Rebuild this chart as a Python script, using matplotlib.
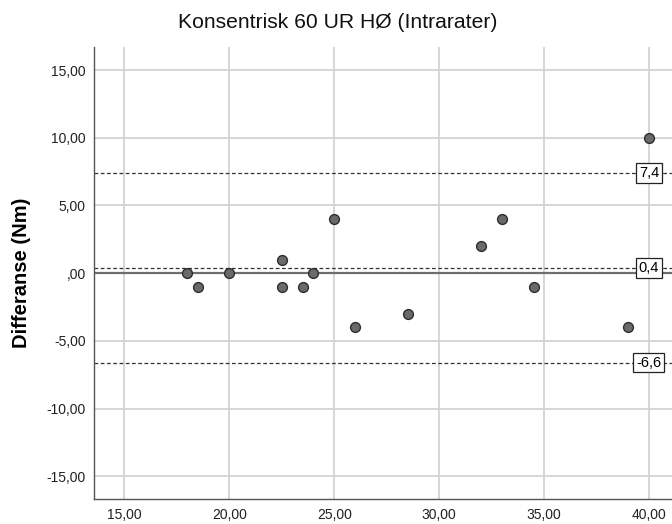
import matplotlib
matplotlib.use("Agg")
import matplotlib.pyplot as plt

# Bland-Altman data: mean of the two measurements vs. their difference
mean_nm = [18, 18.5, 20, 22.5, 22.5, 23.5, 24, 25, 26, 28.5, 32, 33, 34.5, 39, 40]
diff_nm = [0, -1, 0, 1, -1, -1, 0, 4, -4, -3, 2, 4, -1, -4, 10]

# Mean difference and limits of agreement (labelled lines)
ref_values = [7.4, 0.4, -6.6]
ref_labels = ["7,4", "0,4", "-6,6"]

x_ticks = [15, 20, 25, 30, 35, 40]
y_ticks = [15, 10, 5, 0, -5, -10, -15]


def spss_fmt(v):
    s = f"{v:.2f}".replace(".", ",")
    if s.startswith("0,"):
        s = s[1:]
    return s


plt.rcParams["font.family"] = ["Liberation Sans", "DejaVu Sans"]

fig = plt.figure(figsize=(6.72, 5.24), dpi=100)
ax = fig.add_axes([0.1399, 0.0471, 0.8601, 0.8632])

ax.set_xlim(13.55, 41.1)
ax.set_ylim(-16.7, 16.7)

ax.set_xticks(x_ticks)
ax.set_yticks(y_ticks)
ax.set_xticklabels([spss_fmt(v) for v in x_ticks])
ax.set_yticklabels([spss_fmt(v) for v in y_ticks])
ax.tick_params(axis="both", length=0, labelsize=10, colors="#222222", pad=6)

ax.grid(True, color="#d3d3d3", linewidth=1.3)
ax.set_axisbelow(True)

for side in ("top", "right"):
    ax.spines[side].set_visible(False)
for side in ("left", "bottom"):
    ax.spines[side].set_color("#555555")
    ax.spines[side].set_linewidth(1.0)

# zero reference line
ax.axhline(0, color="#6e6e6e", linewidth=1.6, zorder=2)

# mean difference and limits of agreement
for v, lab in zip(ref_values, ref_labels):
    ax.axhline(v, color="#333333", linewidth=0.9, linestyle=(0, (3, 2)), zorder=2)
    ax.text(40, v, lab, ha="center", va="center", fontsize=10.5, zorder=4,
            bbox=dict(boxstyle="square,pad=0.2", fc="white", ec="#222222", lw=0.9))

ax.scatter(mean_nm, diff_nm, s=50, c="#6a6a6a", edgecolors="#2e2e2e",
           linewidths=1.0, zorder=3)

ax.set_ylabel("Differanse (Nm)", fontsize=14.5, fontweight="bold", labelpad=11)
fig.suptitle("Konsentrisk 60 UR HØ (Intrarater)", fontsize=15.2, x=0.503,
             y=1 - 22 / 524, va="center", color="#111111")

fig.savefig("out.png", dpi=100)
